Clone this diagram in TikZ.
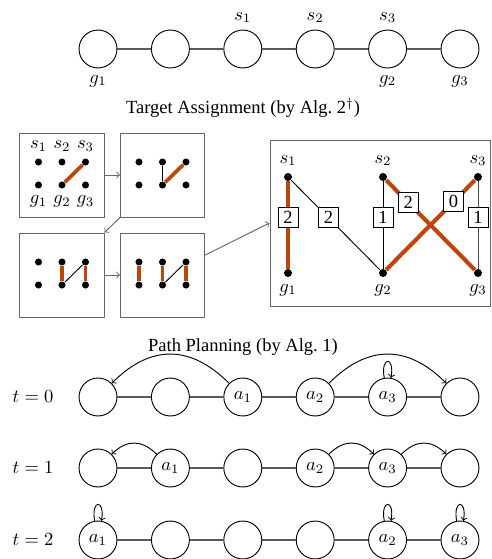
\documentclass[tikz,border=0pt]{standalone}
\usepackage{fontspec}
\setmainfont{Liberation Serif}
\definecolor{pickorange}{RGB}{190,70,12}

\begin{document}
\begin{tikzpicture}[x=0.54pt,y=-0.54pt,line width=0.5pt,
    vertex/.style={circle,draw,minimum size=20.5pt,inner sep=0pt},
    link/.style={draw=black!65,line width=0.6pt},
    dot/.style={circle,fill,inner sep=0pt,minimum size=3.8pt},
    big dot/.style={dot,minimum size=4.3pt},
    panel/.style={draw=black!60,minimum size=45.4pt,inner sep=0pt},
    flow/.style={->,draw=black!60},
    chosen/.style={draw=pickorange,line width=2pt},
    weight/.style={draw=black,text=black,fill=white,line width=0.4pt,minimum size=10.8pt,inner sep=1pt},
    hop left/.style={->,out=135,in=45,looseness=1.2},
    hop right/.style={->,out=45,in=135,looseness=1.2},
    stay/.style={->,loop,out=100,in=80,min distance=12pt}]
    \useasboundingbox (0,0) rectangle (491,559);

    % graph with starts and goals
    \foreach \i in {1,...,6}
        \node[vertex] (v\i) at (98+72.4*\i-72.4,49) {};
    \foreach \i [remember=\i as \last (initially 1)] in {2,...,6}
        \draw[link] (v\last) -- (v\i);
    \node[above] at (v3.north) {$s_1$};
    \node[above] at (v4.north) {$s_2$};
    \node[above] at (v5.north) {$s_3$};
    \node[below] at (v1.south) {$g_1$};
    \node[below] at (v5.south) {$g_2$};
    \node[below] at (v6.south) {$g_3$};

    \node (assigncap) at (243,108) {Target Assignment (by Alg.~2$^\dagger$)};

    % small assignment steps
    \foreach \p/\cx/\cy in {1/62/175,2/162.5/175,3/62/275,4/162.5/275} {
        \node[panel] (panel\p) at (\cx,\cy) {};
        \foreach \k/\dx in {1/-23.5,2/0,3/23.5} {
            \node[dot] (p\p s\k) at (\cx+\dx,\cy-13) {};
            \node[dot] (p\p g\k) at (\cx+\dx,\cy+10) {};
        }
    }
    \foreach \k in {1,2,3} {
        \node[above] at (p1s\k.north) {$s_\k$};
        \node[below] at (p1g\k.south) {$g_\k$};
    }
    \draw[chosen] (p1s3) -- (p1g2);
    \draw (p2s2) -- (p2g2);
    \draw[chosen] (p2s3) -- (p2g2);
    \draw[chosen] (p3s2) -- (p3g2);
    \draw[chosen] (p3s3) -- (p3g3);
    \draw (p3g2) -- (p3s3);
    \draw[chosen] (p4s1) -- (p4g1);
    \draw[chosen] (p4s2) -- (p4g2);
    \draw[chosen] (p4s3) -- (p4g3);
    \draw (p4g2) -- (p4s3);

    % final assignment with weights
    \node[panel,minimum width=118.8pt,minimum height=89.6pt] (assign) at (380,223) {};
    \foreach \k/\x in {1/288,2/383,3/478} {
        \node[big dot,label=above:$s_\k$] (s\k) at (\x,177) {};
        \node[big dot,label=below:$g_\k$] (g\k) at (\x,273) {};
    }
    \draw[chosen,line width=2.2pt] (s1) -- node[weight,pos=.41] {2} (g1);
    \draw (s1) -- node[weight,pos=.42] {2} (g2);
    \draw (s2) -- node[weight,pos=.41] {1} (g2);
    \draw[chosen,line width=2.2pt] (s2) -- node[weight,pos=.25] {2} (g3);
    \draw[chosen,line width=2.2pt] (s3) -- node[weight,pos=.24] {0} (g2);
    \draw[black!70] (s3) -- node[weight,pos=.41] {1} (g3);

    \draw[flow] (panel1) -- (panel2);
    \draw[flow] (panel2.south west) -- (panel3.north east);
    \draw[flow] (panel3) -- (panel4);
    \draw[flow] (panel4.25) -- (assign.west);

    \node (plancap) at (243,347) {Path Planning (by Alg.~1)};

    % t = 0
    \node at (33,397) {$t=0$};
    \foreach \i/\who in {1/{},2/{},3/a_1,4/a_2,5/a_3,6/{}}
        \node[vertex] (t0n\i) at (98+72.4*\i-72.4,397) {$\who$};
    % t = 1
    \node at (33,468) {$t=1$};
    \foreach \i/\who in {1/{},2/a_1,3/{},4/a_2,5/a_3,6/{}}
        \node[vertex] (t1n\i) at (98+72.4*\i-72.4,468) {$\who$};
    % t = 2
    \node at (33,540) {$t=2$};
    \foreach \i/\who in {1/a_1,2/{},3/{},4/{},5/a_2,6/a_3}
        \node[vertex] (t2n\i) at (98+72.4*\i-72.4,540) {$\who$};
    \foreach \r in {0,1,2}
        \foreach \i [remember=\i as \last (initially 1)] in {2,...,6}
            \draw[link] (t\r n\last) -- (t\r n\i);

    \path (t0n3) edge[hop left] (t0n1)
          (t0n4) edge[hop right] (t0n6)
          (t0n5) edge[stay] (t0n5);
    \path (t1n2) edge[hop left] (t1n1)
          (t1n4) edge[hop right] (t1n5)
          (t1n5) edge[hop right] (t1n6);
    \path (t2n1) edge[stay] (t2n1)
          (t2n5) edge[stay] (t2n5)
          (t2n6) edge[stay] (t2n6);
\end{tikzpicture}
\end{document}
